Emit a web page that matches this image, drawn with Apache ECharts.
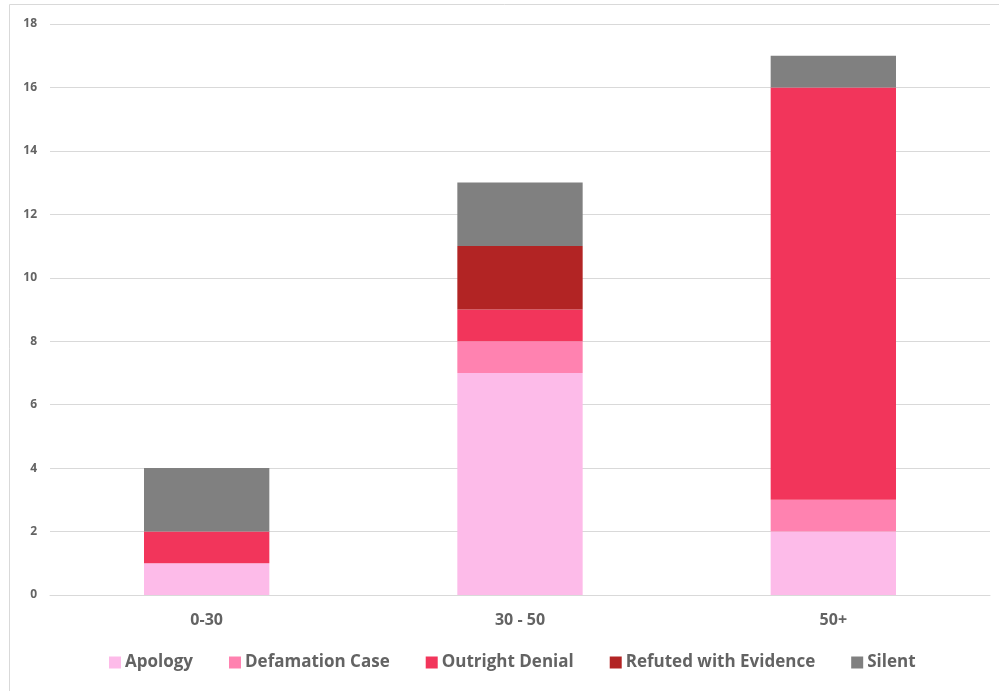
<!DOCTYPE html>
<html><head><meta charset="utf-8">
<script src="https://cdn.jsdelivr.net/npm/echarts@6/dist/echarts.min.js"></script>
<style>html,body{margin:0;padding:0;background:#fff}#c{width:999px;height:691px}</style>
</head><body><div id="c"></div>
<script>
const categories = ['0-30', '30 - 50', '50+'];
const seriesNames = ['Apology', 'Defamation Case', 'Outright Denial', 'Refuted with Evidence', 'Silent'];
const apology = [1, 7, 2];
const defamationCase = [0, 1, 1];
const outrightDenial = [1, 1, 13];
const refutedWithEvidence = [0, 2, 0];
const silent = [2, 2, 1];
const yTicks = [0, 2, 4, 6, 8, 10, 12, 14, 16, 18];
const colors = ['#FDBBE9', '#FF82B0', '#F2355B', '#B22424', '#808080'];
const values = [apology, defamationCase, outrightDenial, refutedWithEvidence, silent];

const chart = echarts.init(document.getElementById('c'), null, {renderer: 'canvas'});
chart.setOption({
  animation: false,
  color: colors,
  textStyle: {fontFamily: '"Open Sans", "Liberation Sans", sans-serif'},
  graphic: [{type: 'rect', shape: {x: 9.5, y: 4.5, width: 1100, height: 800}, style: {fill: 'none', stroke: '#d9d9d9', lineWidth: 1}, silent: true, z: -1}],
  grid: {left: 50, right: 9, top: 24, bottom: 96, containLabel: false},
  legend: {
    bottom: 15, left: 104, itemWidth: 12, itemHeight: 12, itemGap: 36,
    icon: 'rect',
    textStyle: {fontSize: 17, fontWeight: 'bold', color: '#636363', fontFamily: '"Open Sans", "Liberation Sans", sans-serif', padding: [0, 0, 0, -1]},
    data: seriesNames
  },
  xAxis: {
    type: 'category', data: categories,
    axisLine: {lineStyle: {color: '#d9d9d9'}}, axisTick: {show: false},
    axisLabel: {fontSize: 16, color: '#636363', margin: 17, fontWeight: 'bold'}
  },
  yAxis: {
    type: 'value', min: yTicks[0], max: yTicks[yTicks.length - 1], interval: 2,
    axisLine: {show: false}, axisTick: {show: false},
    splitLine: {lineStyle: {color: '#d9d9d9', width: 1}},
    axisLabel: {fontSize: 12, fontWeight: 'bold', color: '#636363', margin: 13}
  },
  series: seriesNames.map((n, i) => ({
    name: n, type: 'bar', stack: 'total', barWidth: '40%',
    data: values[i], itemStyle: {color: colors[i]}
  }))
});
</script></body></html>
